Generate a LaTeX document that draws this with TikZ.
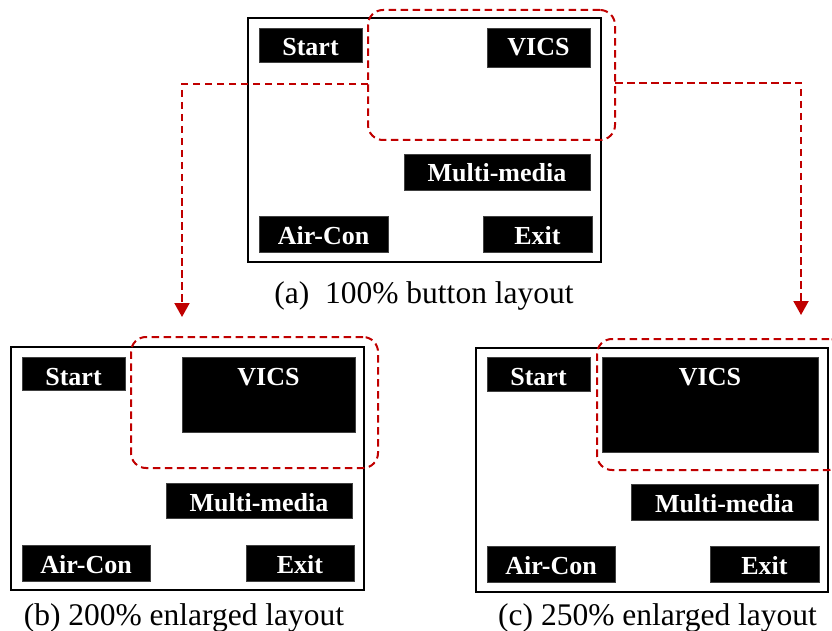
\documentclass[tikz,border=0pt]{standalone}
\usepackage{fontspec}
\setmainfont{Liberation Serif}
\usetikzlibrary{arrows.meta,calc}
\definecolor{zoomred}{RGB}{192,0,0}

\tikzset{
  screen/.style={draw=black, line width=1.9pt, inner sep=0pt, outer sep=0pt, anchor=north west},
  btn/.style={fill=black, draw=black!75, line width=0.6pt, inner sep=0pt, outer sep=0pt, anchor=north west},
  btnlabel/.style={text=white, font=\fontsize{26}{30}\selectfont\bfseries, anchor=base, inner sep=0pt},
  zoomzone/.style={draw=zoomred, line width=2pt, dash pattern=on 7.5pt off 4.5pt,
    rounded corners=15pt, inner sep=0pt, outer sep=0pt, anchor=north west},
  link/.style={draw=zoomred, line width=2pt, dash pattern=on 7.5pt off 4.5pt,
    -{Triangle[length=14pt,width=15pt]}},
  caption/.style={font=\fontsize{31.5}{36}\selectfont, anchor=base, inner sep=0pt}
}

% name, x1, y1, x2, y2, label  (pixel-style coordinates, y pointing down)
\newcommand\uibutton[6]{%
  \node[btn, minimum width={(#4-#2)*1pt}, minimum height={(#5-#3)*1pt}] (#1) at (#2,#3) {};
  \node[btnlabel] (#1-t) at ($(#1.north)+(0,28)$) {#6};
}
% name, x1, y1, x2, y2
\newcommand\uiscreen[5]{%
  \node[screen, minimum width={(#4-#2)*1pt}, minimum height={(#5-#3)*1pt}] (#1) at (#2,#3) {};
}
\newcommand\uizone[5]{%
  \node[zoomzone, minimum width={(#4-#2)*1pt}, minimum height={(#5-#3)*1pt}] (#1) at (#2,#3) {};
}

\begin{document}
\begin{tikzpicture}[x=1pt, y=-1pt]
  \useasboundingbox (0,0) rectangle (832,631);
  \clip (0,0) rectangle (832,631);

  % (a) original layout
  \uiscreen{scrA}{248}{18}{601}{262}
  \uibutton{startA}{259}{28}{362}{62}{Start}
  \uibutton{vicsA}{487}{28}{590}{67}{VICS}
  \uibutton{mediaA}{404}{154}{590}{190}{Multi-media}
  \uibutton{airA}{259}{216}{388}{252}{Air-Con}
  \uibutton{exitA}{483}{216}{592}{252}{Exit}
  \uizone{zoneA}{368}{10}{615}{140}
  \node[caption] (capA) at (424,303) {(a)\ \ 100\% button layout};

  % (b) 200% layout
  \uiscreen{scrB}{11}{347}{364}{590}
  \uibutton{startB}{22}{357}{125}{390}{Start}
  \uibutton{vicsB}{182}{357}{355}{432}{VICS}
  \uibutton{mediaB}{166}{483}{352}{518}{Multi-media}
  \uibutton{airB}{22}{545}{150}{581}{Air-Con}
  \uibutton{exitB}{246}{545}{354}{581}{Exit}
  \uizone{zoneB}{131}{337}{378}{468}
  \node[caption] (capB) at (184,625) {(b) 200\% enlarged layout};

  % (c) 250% layout
  \uiscreen{scrC}{476}{348}{828}{592}
  \uibutton{startC}{487}{357}{590}{391}{Start}
  \uibutton{vicsC}{602}{357}{818}{452}{VICS}
  \uibutton{mediaC}{631}{484}{818}{520}{Multi-media}
  \uibutton{airC}{487}{546}{615}{582}{Air-Con}
  \uibutton{exitC}{710}{546}{819}{582}{Exit}
  \uizone{zoneC}{597}{339}{844}{470}
  \node[caption] (capC) at (657.5,625) {(c) 250\% enlarged layout};

  % connectors from the enlarged region to the two variants
  \coordinate (bendB) at (182,84);
  \coordinate (tipB) at (182,317);
  \coordinate (bendC) at (801,83);
  \coordinate (tipC) at (801,315);
  \draw[link] (zoneA.west |- bendB) -- (bendB) -- (tipB);
  \draw[link] (zoneA.east |- bendC) -- (bendC) -- (tipC);
\end{tikzpicture}
\end{document}
